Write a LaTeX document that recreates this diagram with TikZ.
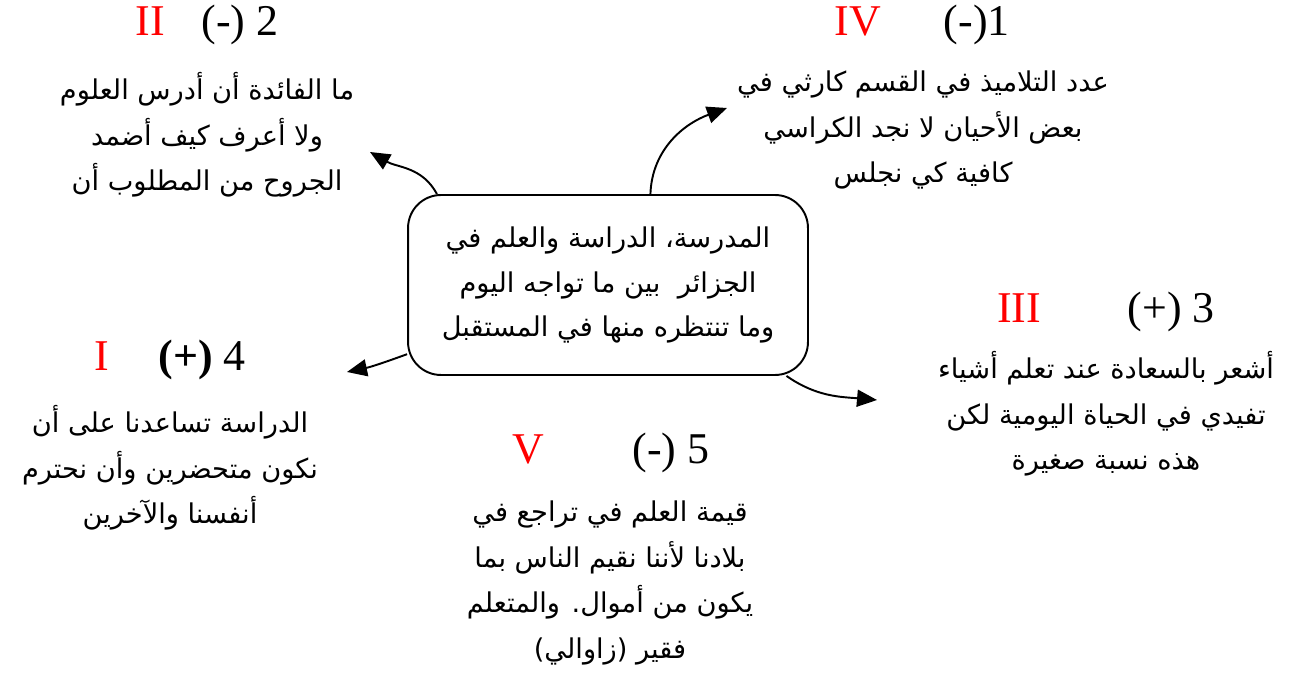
\documentclass[tikz,border=0pt]{standalone}
\usepackage{fontspec}
\setmainfont{Liberation Serif}
\newfontfamily\arabicfont[Script=Arabic]{DejaVu Sans}
\usetikzlibrary{arrows.meta}
\TeXXeTstate=1
\newcommand{\arline}[1]{\beginR #1\endR}

\tikzstyle{centrebox} = [rectangle, rounded corners=0.66cm, minimum width=8cm, minimum height=3.6cm, draw=black, line width=1.1pt, align=center, font=\arabicfont\fontsize{15.5}{25.5}\selectfont]
\tikzstyle{note} = [align=center, inner sep=0pt, font=\arabicfont\fontsize{15.5}{26}\selectfont]
\tikzstyle{title} = [inner sep=0pt, font=\fontsize{25}{30}\selectfont]
\tikzstyle{arrow} = [line width=1.1pt, -{Triangle[length=0.4cm,width=0.34cm]}]

\begin{document}
\begin{tikzpicture}[x=0.02cm, y=0.02cm]
  \useasboundingbox (0,0) rectangle (1290,683);

  \node (Centre) [centrebox] at (608,398) {\arline{المدرسة، الدراسة والعلم في}\\ \arline{الجزائر\ \ بين ما تواجه اليوم}\\ \arline{وما تنتظره منها في المستقبل}};

  \node (Title Two) [title] at (207,658) {\textcolor{red}{II}\hspace{0.74cm}(-) 2};
  \node (Text Two) [note] at (207,548) {\arline{ما الفائدة أن أدرس العلوم}\\ \arline{ولا أعرف كيف أضمد}\\ \arline{الجروح من المطلوب أن}};

  \node (Title One) [title] at (922,658) {\textcolor{red}{IV}\hspace{1.26cm}(-)1};
  \node (Text One) [note] at (923,553) {\arline{عدد التلاميذ في القسم كارثي في}\\ \arline{بعض الأحيان لا نجد الكراسي}\\ \arline{كافية كي نجلس}};

  \node (Title Three) [title] at (1106,371) {\textcolor{red}{III}\hspace{1.74cm}(+) 3};
  \node (Text Three) [note] at (1106,269) {\arline{أشعر بالسعادة عند تعلم أشياء}\\ \arline{تفيدي في الحياة اليومية لكن}\\ \arline{هذه نسبة صغيرة}};

  \node (Title Four) [title] at (170,323) {\textcolor{red}{I}\hspace{1cm}\textbf{(+)} 4};
  \node (Text Four) [note] at (170,215) {\arline{الدراسة تساعدنا على أن}\\ \arline{نكون متحضرين وأن نحترم}\\ \arline{أنفسنا والآخرين}};

  \node (Title Five) [title] at (611,230) {\textcolor{red}{V}\hspace{1.76cm}(-) 5};
  \node (Text Five) [note] at (610,100) {\arline{قيمة العلم في تراجع في}\\ \arline{بلادنا لأننا نقيم الناس بما}\\ \arline{يكون من أموال. والمتعلم}\\ \arline{فقير (زاوالي)}};

  \coordinate (Tip Two) at (370,531);
  \coordinate (Tip One) at (727,575);
  \coordinate (Tip Four) at (347,311);
  \coordinate (Tip Three) at (877,283);

  \draw [arrow] (Centre.152) to[out=118, in=-30] (Tip Two);
  \draw [arrow] (Centre.65) to[out=88, in=200] (Tip One);
  \draw [arrow] (Centre.199) to[out=200, in=12] (Tip Four);
  \draw [arrow] (Centre.333) to[out=-35, in=175] (Tip Three);
\end{tikzpicture}
\end{document}
